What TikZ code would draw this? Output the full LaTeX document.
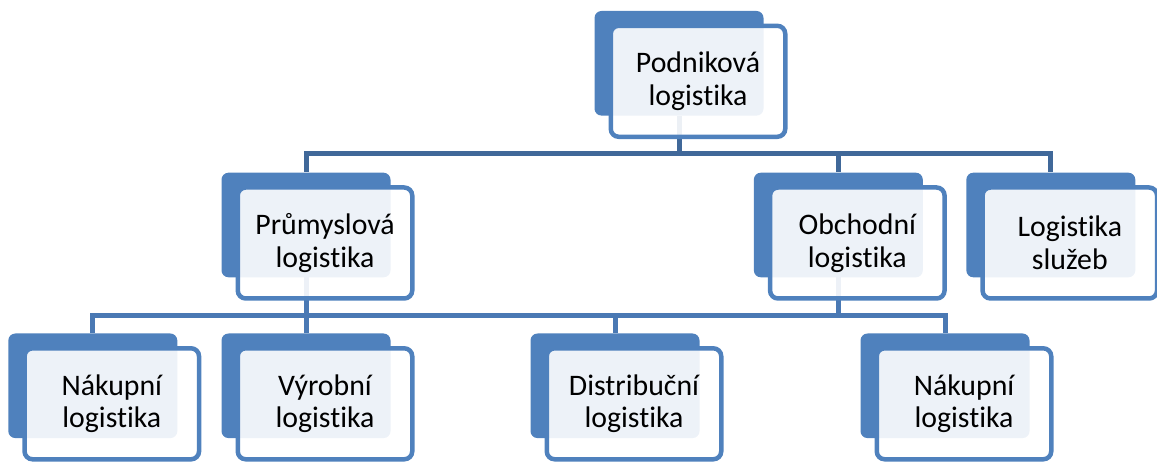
\documentclass[tikz,border=0pt]{standalone}
\usepackage{fontspec}
\setmainfont{Carlito}[Ligatures=NoCommon]
\usetikzlibrary{positioning}

\definecolor{boxblue}{RGB}{79,129,189}
\definecolor{topline}{RGB}{64,104,153}
\definecolor{lowline}{RGB}{74,121,180}

\tikzset{
  back/.style={fill=boxblue,rounded corners=7pt,minimum width=169pt,minimum height=104.6pt,inner sep=0pt},
  front/.style={draw=boxblue,line width=4.5pt,fill=white,fill opacity=0.9,text opacity=1,rounded corners=8pt,
    minimum width=174.5pt,minimum height=111pt,inner sep=0pt,align=center,xshift=19pt,yshift=-18pt,
    font=\fontsize{29.8}{32.5}\selectfont},
  topbus/.style={draw=topline,line width=5pt},
  lowbus/.style={draw=lowline,line width=5pt}
}

\begin{document}
\begin{tikzpicture}[x=1pt,y=-1pt]
\useasboundingbox (0,0) rectangle (1157,462);

\node[back] (pod) at (679,63.3){};
\node[back] (prum) at (306,225){};
\node[back] (obch) at (838.3,225){};
\node[back] (sluz) at (1050.8,225){};
\node[back] (nak) at (92.8,385.8){};
\node[back] (vyr) at (306,385.8){};
\node[back] (dist) at (615,385.8){};
\node[back] (nakb) at (945,385.8){};

\draw[topbus] (pod.south) -- ++(0,38) -| (prum.north);
\draw[topbus] (pod.south) -- ++(0,38) -| (obch.north);
\draw[topbus] (pod.south) -- ++(0,38) -| (sluz.north);

\draw[lowbus] (prum.south) -- ++(0,37.7) -| (nak.north);
\draw[lowbus] (prum.south) -- ++(0,37.7) -| (vyr.north);
\draw[lowbus] (prum.south) -- ++(0,37.7) -| (dist.north);
\draw[lowbus] (obch.south) -- ++(0,37.7) -| (dist.north);
\draw[lowbus] (obch.south) -- ++(0,37.7) -| (nakb.north);

\node[front] (podt) at (pod){Podniková\\logistika};
\node[front] (prumt) at (prum){Průmyslová\\logistika};
\node[front] (obcht) at (obch){Obchodní\\logistika};
\node[front] (sluzt) at (sluz){Logistika\\služeb};
\node[front] (nakt) at (nak){Nákupní\\logistika};
\node[front] (vyrt) at (vyr){Výrobní\\logistika};
\node[front] (distt) at (dist){Distribuční\\logistika};
\node[front] (nakbt) at (nakb){Nákupní\\logistika};
\end{tikzpicture}
\end{document}
